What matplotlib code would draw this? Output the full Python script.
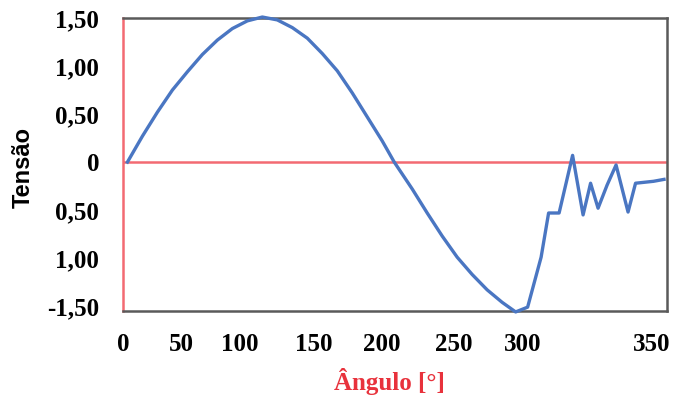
import matplotlib.pyplot as plt

# sampled waveform: angle in degrees, voltage
angulo = [0, 10, 20, 30, 40, 50, 60, 70, 80, 90, 100, 110, 120, 130, 140,
          150, 160, 170, 178, 190, 200, 210, 220, 230, 240, 250, 259, 267,
          276, 281, 288, 297, 304, 309, 314, 320, 326, 334, 339, 345, 351, 358]
tensao = [0, 0.27, 0.52, 0.75, 0.94, 1.12, 1.27, 1.39, 1.47, 1.51, 1.48, 1.40,
          1.29, 1.13, 0.95, 0.72, 0.47, 0.22, 0, -0.28, -0.53, -0.77, -0.99,
          -1.17, -1.33, -1.46, -1.56, -1.51, -0.99, -0.53, -0.53, 0.07, -0.55,
          -0.22, -0.48, -0.24, -0.03, -0.52, -0.22, -0.21, -0.20, -0.18]

ytick_vals = [1.5, 1.0, 0.5, 0, -0.5, -1.0, -1.5]
ytick_labels = ["1,50", "1,00", "0,50", "0", "0,50", "1,00", "-1,50"]
xtick_labels = ["0", "50", "100", "150", "200", "250", "300", "350"]
# where the x labels sit along the axis
xtick_pos = [-3, 36, 75, 124, 170, 218, 264, 350]

fig = plt.figure(figsize=(6.83, 3.99), dpi=100)
ax = fig.add_axes([0.180, 0.2206, 0.7966, 0.7343])

ax.plot(angulo, tensao, color="#4a76c2", lw=2.4, clip_on=False, zorder=3)
ax.axhline(0, color="#f36a72", lw=1.8, zorder=2)

ax.set_xlim(0, 360)
ax.set_ylim(-1.55, 1.5)

for side in ["top", "right", "bottom"]:
    ax.spines[side].set_color("#5a5a5a")
    ax.spines[side].set_linewidth(1.8)
ax.spines["left"].set_color("#f36a72")
ax.spines["left"].set_linewidth(1.8)

serif = {"family": "Liberation Serif", "weight": "bold", "size": 18}
ax.set_yticks(ytick_vals)
ax.set_yticklabels(ytick_labels, fontdict=serif)
ax.set_xticks(xtick_pos)
ax.set_xticklabels(xtick_labels, fontdict=serif)
ax.tick_params(axis="both", length=0)
ax.tick_params(axis="y", pad=17)
ax.tick_params(axis="x", pad=16)

ax.set_ylabel("Tensão", family="Liberation Sans", weight="bold", size=17)
ax.set_xlabel("Ângulo [°]", color="#e8323c", family="Liberation Serif",
              weight="bold", size=18)
ax.xaxis.set_label_coords(0.49, -0.195)
ax.yaxis.set_label_coords(-0.162, 0.49)

fig.savefig("out.png", dpi=100)
